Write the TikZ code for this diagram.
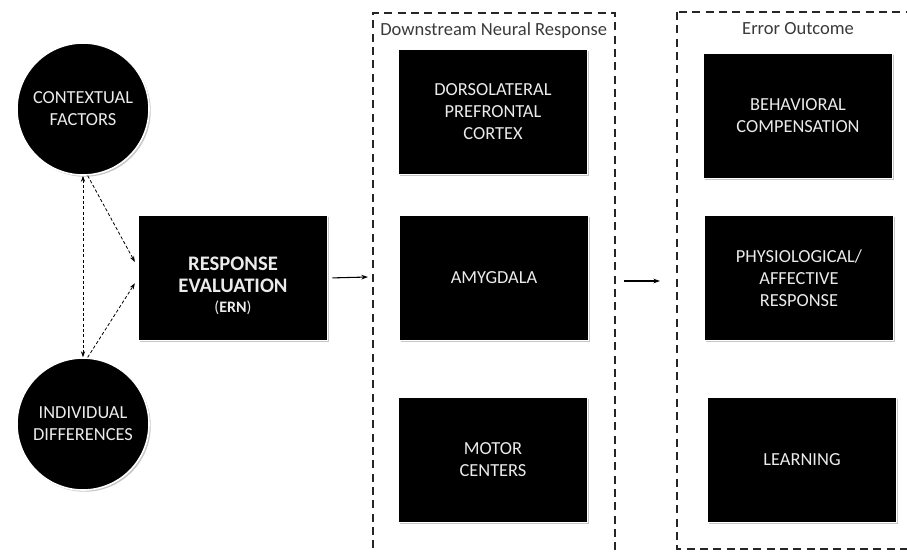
\documentclass[tikz,border=0pt]{standalone}
\usepackage{fontspec}
\setmainfont{Carlito}
\usetikzlibrary{arrows.meta,shadows}
\definecolor{titlegray}{HTML}{3A3A3A}

\begin{document}
\begin{tikzpicture}[x=0.75pt,y=-0.75pt,
    blk/.style={fill=black,draw=white,line width=1.2pt,text=white!92!black,align=center,
      font=\fontsize{13.8}{16.5}\selectfont,inner sep=0pt,
      drop shadow={shadow xshift=1.3pt,shadow yshift=-1.3pt,opacity=0.45,fill=gray}},
    box/.style={blk,rectangle,minimum width=142pt,minimum height=94pt},
    disc/.style={blk,circle,minimum size=99pt},
    frame/.style={draw=black!85,line width=1.6pt,dash pattern=on 6pt off 4pt},
    title/.style={text=titlegray,font=\fontsize{13.9}{16}\selectfont,inner sep=0pt},
    tip/.style={Stealth[length=4.5pt,width=3.2pt]},
    link/.style={line width=0.6pt,dash pattern=on 2.4pt off 1.6pt,-{Stealth[length=4.5pt,width=3.2pt]}},
    flow/.style={line width=0.8pt,-{Stealth[length=5pt,width=3.5pt]}}]
  \useasboundingbox (0,0) rectangle (907,551);
  \clip (0,0) rectangle (907,551);

  % dashed frames
  \draw[frame] (373,575) -- (373,13) -- (615,13) -- (615,575);
  \draw[frame] (677,12) rectangle (925,549);
  \node[title,anchor=west] (T1) at (380,31) {Downstream Neural Response};
  \node[title] (T2) at (798,29) {Error Outcome};

  % inputs
  \node[disc] (CF) at (83,109) {CONTEXTUAL\\FACTORS};
  \node[disc] (ID) at (83,424) {INDIVIDUAL\\DIFFERENCES};
  \node[box] (RE) at (233,278)
    {\rule{0pt}{22pt}\fontsize{15.5}{18}\selectfont\bfseries RESPONSE\\
     \fontsize{15.5}{18}\selectfont\bfseries EVALUATION\\[-1pt]
     \fontsize{12}{13}\selectfont(\textbf{ERN})};

  % downstream
  \node[box] (DPC) at (493,112) {DORSOLATERAL\\PREFRONTAL\\CORTEX};
  \node[box] (AMY) at (494,278) {AMYGDALA};
  \node[box] (MC) at (493,460) {MOTOR\\CENTERS};

  % outcome
  \node[box] (BC) at (798,116) {BEHAVIORAL\\COMPENSATION};
  \node[box] (PR) at (799,278) {PHYSIOLOGICAL/\\AFFECTIVE\\RESPONSE};
  \node[box] (LE) at (802,460) {LEARNING};

  \coordinate (F1) at (368,277);
  \coordinate (F2a) at (624,281);
  \coordinate (F2b) at (660,281);

  \draw[link,{Stealth[length=4.5pt,width=3.2pt]}-{Stealth[length=4.5pt,width=3.2pt]}] (CF.south) -- (ID.north);
  \draw[link] (CF.-86) -- ([yshift=12pt,xshift=-2pt]RE.west);
  \draw[link] (ID.86) -- ([yshift=-4pt,xshift=-2pt]RE.west);
  \draw[flow,shorten <=3pt] (RE.east) -- (F1);
  \draw[flow] (F2a) -- (F2b);
\end{tikzpicture}
\end{document}
